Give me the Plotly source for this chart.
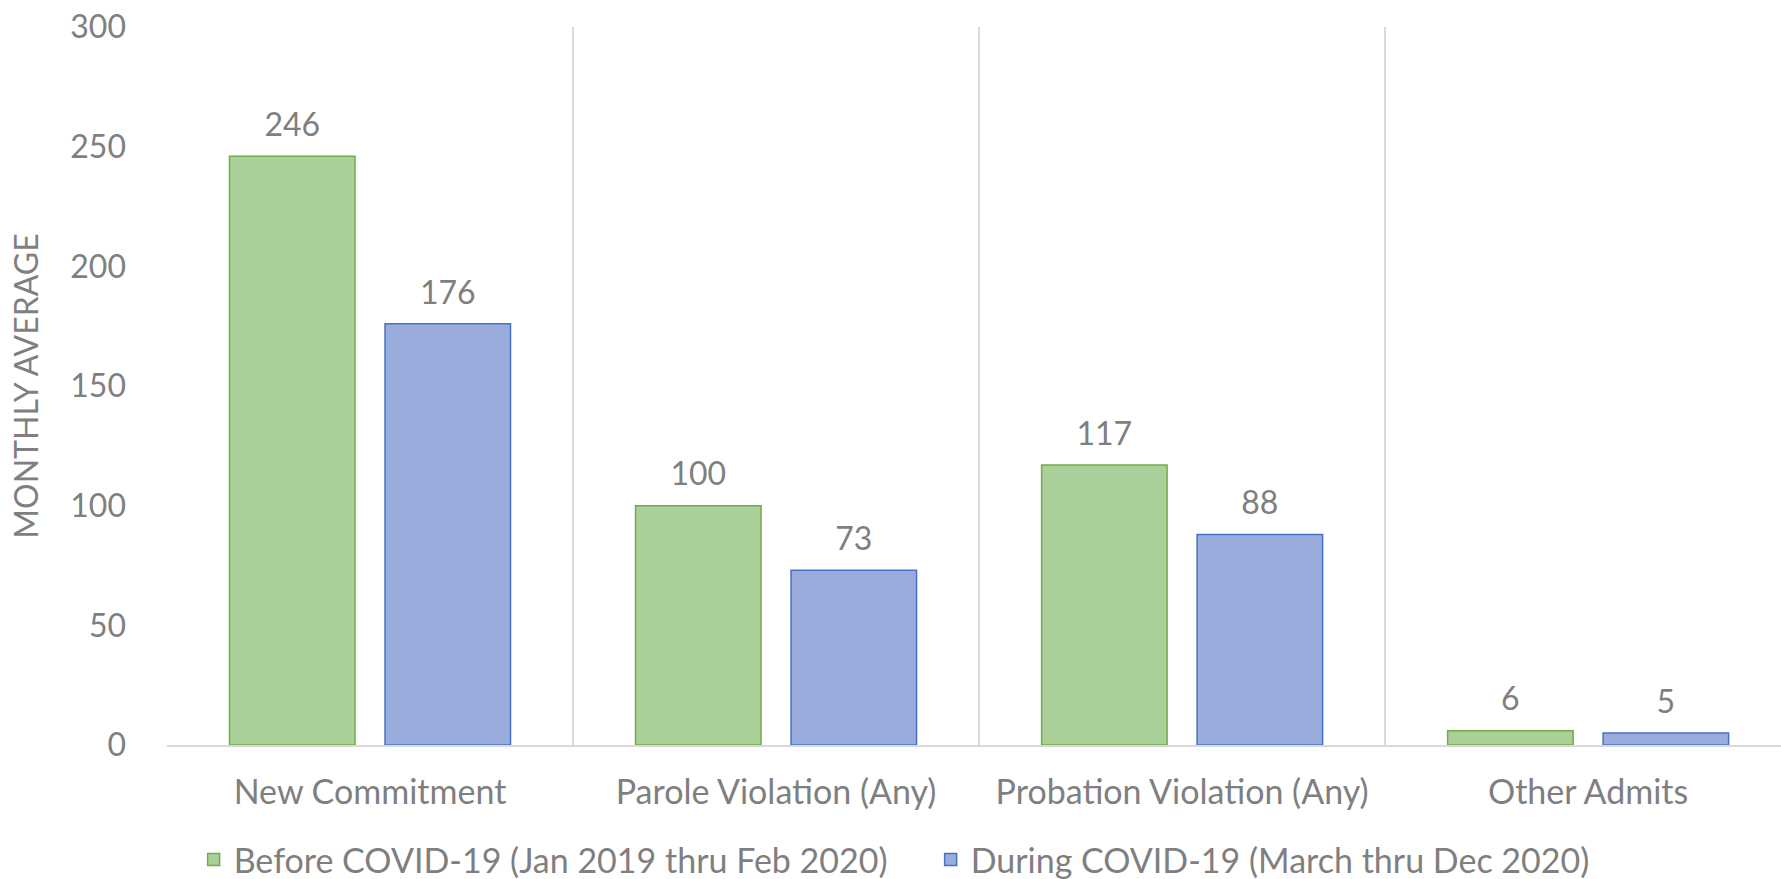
import plotly.graph_objects as go

categories = ["New Commitment", "Parole Violation (Any)", "Probation Violation (Any)", "Other Admits"]
before_vals = [246, 100, 117, 6]
during_vals = [176, 73, 88, 5]
series_names = ["Before COVID-19 (Jan 2019 thru Feb 2020)", "During COVID-19 (March thru Dec 2020)"]
y_ticks = [0, 50, 100, 150, 200, 250, 300]

FONT = "Lato"
GRAY = "#7f7f7f"
BARGAP = 0.234

fig = go.Figure()
for name, vals, fill, edge in [
    (series_names[0], before_vals, "#aacf98", "#70ad47"),
    (series_names[1], during_vals, "#99acdc", "#4472c4"),
]:
    fig.add_trace(go.Bar(
        x=categories, y=vals, name=name, offsetgroup=name,
        marker=dict(color=fill, line=dict(color=edge, width=1.5)),
    ))
for name, vals in [(series_names[0], before_vals), (series_names[1], during_vals)]:
    fig.add_trace(go.Scatter(
        x=categories, y=vals, mode="markers+text", offsetgroup=name,
        text=[str(v) for v in vals], textposition="top center",
        textfont=dict(family=FONT, size=32, color=GRAY),
        marker=dict(size=18, color="rgba(0,0,0,0)"),
        showlegend=False, hoverinfo="skip", cliponaxis=False,
    ))

fig.update_layout(
    width=1781, height=879,
    margin=dict(l=167, r=0, t=27, b=134),
    paper_bgcolor="white", plot_bgcolor="white",
    barmode="group", bargap=BARGAP, bargroupgap=0.193,
    scattermode="group", scattergap=BARGAP,
    font=dict(family=FONT, size=32, color=GRAY),
    legend=dict(orientation="h", x=0.0165, xanchor="left",
                y=0.0216, yanchor="middle", yref="container",
                font=dict(family=FONT, size=34, color=GRAY),
                entrywidth=692, entrywidthmode="pixels"),
    showlegend=True,
)
fig.update_xaxes(
    range=[-0.5, 3.475], tickson="boundaries", showgrid=True, gridcolor="#d9d9d9", gridwidth=1.5,
    ticks="", showline=True, linecolor="#d9d9d9", linewidth=1.5, automargin=False,
    ticklabelstandoff=16,
    tickfont=dict(family=FONT, size=34, color=GRAY),
)
fig.update_yaxes(
    range=[0, 300], tickvals=y_ticks, showgrid=False, zeroline=False, showline=False,
    ticks="", ticklabelstandoff=40, automargin=False,
    tickfont=dict(family=FONT, size=32, color=GRAY),
    title=dict(text="MONTHLY AVERAGE", font=dict(family=FONT, size=32, color=GRAY), standoff=22),
)

fig.write_html("out.html", config={"displayModeBar": False},
               post_script="document.body.style.margin='0px';")
